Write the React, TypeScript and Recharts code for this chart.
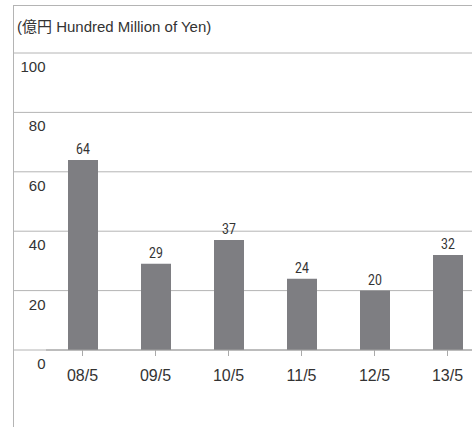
import React from "react";
import {
  BarChart,
  Bar,
  XAxis,
  YAxis,
  CartesianGrid,
  LabelList,
} from "recharts";

const periods = ["08/5", "09/5", "10/5", "11/5", "12/5", "13/5"];
const amounts = [64, 29, 37, 24, 20, 32];
const yTicks = [0, 20, 40, 60, 80, 100];

const data = periods.map((period, i) => ({ period, amount: amounts[i] }));

const GRID = "#b4b4b4";
const TEXT = "#333333";
const SANS = "'Liberation Sans', Arial, sans-serif";

const YTick = (props: any) => {
  const { y, payload } = props;
  return (
    <g>
      <line x1={13.5} x2={46} y1={y} y2={y} stroke={GRID} />
      <text x={45.5} y={y + 19} textAnchor="end" fill={TEXT} fontSize={15} fontFamily={SANS}>
        {payload.value}
      </text>
    </g>
  );
};

// condensed look for the bar values
const ValueLabel = (props: any) => {
  const { x, y, width, value } = props;
  const cx = x + width / 2;
  return (
    <text
      x={cx}
      y={y - 6}
      textAnchor="middle"
      fill={TEXT}
      fontSize={15}
      fontFamily="Roboto, sans-serif"
      transform={`translate(${cx} 0) scale(0.82 1) translate(${-cx} 0)`}
    >
      {value}
    </text>
  );
};

const App = () => {
  return (
    <div
      style={{
        position: "absolute",
        left: 0,
        top: 0,
        width: 472,
        height: 427,
        overflow: "hidden",
        background: "#fff",
      }}
    >
      <div
        style={{
          position: "absolute",
          left: 13,
          top: 5,
          width: 470,
          height: 430,
          borderTop: `1px solid ${GRID}`,
          borderLeft: `1px solid ${GRID}`,
        }}
      />
      <div
        style={{
          position: "absolute",
          left: 17,
          top: 18,
          fontSize: 15,
          lineHeight: "17px",
          color: TEXT,
          fontFamily: "'Liberation Sans', Arial, 'Noto Sans CJK JP', sans-serif",
          whiteSpace: "nowrap",
        }}
      >
        (億円 Hundred Million of Yen)
      </div>
      <div style={{ position: "absolute", left: 0, top: 0 }}>
        <BarChart
          width={490}
          height={427}
          data={data}
          margin={{ top: 53, right: 6, bottom: 0, left: 0 }}
          barSize={30}
        >
          <CartesianGrid vertical={false} stroke={GRID} />
          <XAxis
            dataKey="period"
            height={77}
            axisLine={{ stroke: "#a0a0a0" }}
            tickLine={{ stroke: "#aaaaaa" }}
            tickSize={6}
            tickMargin={14}
            tick={{ fill: TEXT, fontSize: 16, fontFamily: SANS }}
          />
          <YAxis
            width={46}
            domain={[0, 100]}
            ticks={yTicks}
            axisLine={false}
            tickLine={false}
            tick={<YTick />}
          />
          <Bar dataKey="amount" fill="#7e7e82" isAnimationActive={false}>
            <LabelList dataKey="amount" content={<ValueLabel />} />
          </Bar>
        </BarChart>
      </div>
    </div>
  );
};

export default App;
